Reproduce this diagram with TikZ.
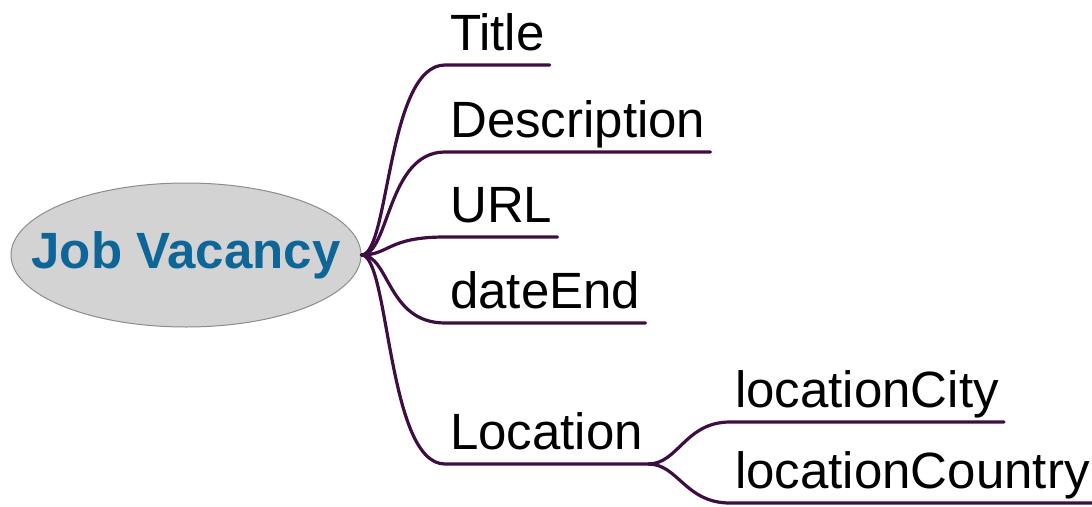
\documentclass[tikz,border=0pt]{standalone}
\usepackage{fontspec}
\setmainfont{Liberation Sans}
\usetikzlibrary{shapes.geometric, positioning}

\definecolor{vacblue}{RGB}{14,102,152}
\definecolor{branchpurple}{RGB}{62,14,66}
\definecolor{rootfill}{RGB}{211,211,211}
\definecolor{rootdraw}{RGB}{140,140,140}

\begin{document}
\begin{tikzpicture}[
x=1pt, y=-1pt,
root/.style={
ellipse,
draw=rootdraw,
fill=rootfill,
line width=1pt,
minimum width=350pt,
minimum height=144pt,
inner sep=0pt,
text=vacblue,
font=\fontsize{51}{56}\selectfont\bfseries
},
leaf/.style={
anchor=south west,
inner xsep=5pt,
inner ysep=0pt,
text depth=14.5pt,
font=\fontsize{51}{56}\selectfont
},
branch/.style={draw=branchpurple, line width=3.2pt, line cap=round}
]
\useasboundingbox (0,0) rectangle (1092,506);

\node[root] (vacancy) at (186,255) {\makebox[0pt]{Job Vacancy}};

\node[leaf] (title) at (445,65) {Title};
\node[leaf] (descr) at (445,152) {Description};
\node[leaf] (url) at (445,237) {URL};
\node[leaf] (dateend) at (445,323) {dateEnd};
\node[leaf] (location) at (445,464) {Location};

\node[leaf] (loccity) at (730,422) {locationCity};
\node[leaf] (loccountry) at (730,503) {locationCountry};

% main branches
\foreach \child in {title, descr, url, dateend, location}
  \draw[branch] (vacancy.east) .. controls +(28,0) and +(-58,0) .. (\child.south west) -- (\child.south east);

% location sub-branches
\foreach \child in {loccity, loccountry}
  \draw[branch] (location.south east) .. controls +(30,0) and +(-45,0) .. (\child.south west) -- (\child.south east);

\end{tikzpicture}
\end{document}
